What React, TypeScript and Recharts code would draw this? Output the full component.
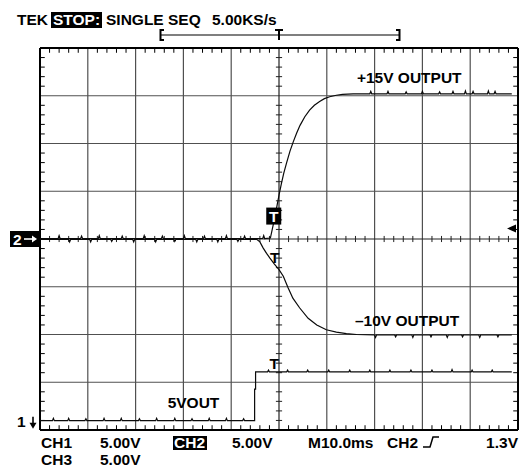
import React from 'react';
import { ComposedChart, Line, XAxis, YAxis, ReferenceLine, ReferenceDot } from 'recharts';

const FONT = '"Liberation Sans", Arial, Helvetica, sans-serif';

// Time in ms relative to the trigger, voltage in volts.
// CH2: +15V output (ground at screen centre)
const pos15: [number, number][] = [
  [-50, 0.05],
  [-46.2, 0.05], [-46.0, 0.35], [-45.8, 0.05],
  [-41.5, 0.05], [-41.3, 0.3], [-41.1, 0.05],
  [-37.8, 0.05], [-37.6, 0.35], [-37.4, 0.05],
  [-33.0, 0.05], [-32.8, 0.3], [-32.6, 0.05],
  [-28.4, 0.05], [-28.2, 0.35], [-28.0, 0.05],
  [-24.6, 0.05], [-24.4, 0.3], [-24.2, 0.05],
  [-20.0, 0.05], [-19.8, 0.35], [-19.6, 0.05],
  [-15.8, 0.05], [-15.6, 0.3], [-15.4, 0.05],
  [-11.2, 0.05], [-11.0, 0.35], [-10.8, 0.05],
  [-7.4, 0.05], [-7.2, 0.3], [-7.0, 0.05],
  [-3.4, 0.05], [-3.2, 0.35], [-3.0, 0.05],
  [-1.8, 0.1], [-1.2, 1.5], [-0.6, 3.0], [0, 4.6], [0.5, 5.8], [1.0, 6.9],
  [1.6, 8.0], [2.3, 9.2], [3.0, 10.2], [3.7, 11.1], [4.4, 11.9], [5.4, 12.8],
  [6.4, 13.5], [7.4, 14.0], [8.5, 14.4], [9.5, 14.7], [10.6, 14.9], [12.0, 15.05],
  [13.3, 15.15], [15.5, 15.2], [17.5, 15.2],
  [19.0, 15.2], [19.2, 15.45], [19.4, 15.2],
  [22.6, 15.2], [22.8, 15.45], [23.0, 15.2],
  [26.4, 15.2], [26.6, 15.4], [26.8, 15.2],
  [29.8, 15.2], [30.0, 15.45], [30.2, 15.2],
  [33.4, 15.2], [33.6, 15.4], [33.8, 15.2],
  [36.2, 15.2], [36.4, 15.45], [36.6, 15.2],
  [38.8, 15.2], [39.0, 15.5], [39.2, 15.2],
  [40.4, 15.2], [40.6, 15.45], [40.8, 15.2],
  [43.6, 15.2], [43.8, 15.5], [44.0, 15.2],
  [45.0, 15.2], [45.2, 15.45], [45.4, 15.2],
  [48.7, 15.2],
];

// CH3: -10V output (same ground)
const neg10: [number, number][] = [
  [-50, -0.05],
  [-44.0, -0.05], [-43.8, -0.3], [-43.6, -0.05],
  [-39.6, -0.05], [-39.4, -0.3], [-39.2, -0.05],
  [-35.2, -0.05], [-35.0, -0.25], [-34.8, -0.05],
  [-30.6, -0.05], [-30.4, -0.3], [-30.2, -0.05],
  [-26.0, -0.05], [-25.8, -0.3], [-25.6, -0.05],
  [-22.0, -0.05], [-21.8, -0.25], [-21.6, -0.05],
  [-17.4, -0.05], [-17.2, -0.3], [-17.0, -0.05],
  [-13.0, -0.05], [-12.8, -0.3], [-12.6, -0.05],
  [-8.8, -0.05], [-8.6, -0.25], [-8.4, -0.05],
  [-4.6, -0.05], [-4.0, -0.3], [-3.3, -0.95], [-2.6, -1.5], [-1.9, -2.0], [-1.0, -2.6],
  [0, -3.2], [0.9, -3.9], [1.9, -5.1], [2.9, -6.2], [4.3, -7.2], [6.1, -8.3],
  [7.9, -9.0], [9.9, -9.5], [12.0, -9.75], [14.1, -9.9], [16.2, -10.0],
  [20.0, -10.05], [20.2, -10.3], [20.4, -10.05],
  [24.2, -10.05], [24.4, -10.25], [24.6, -10.05],
  [27.8, -10.05], [28.0, -10.3], [28.2, -10.05],
  [31.6, -10.05], [31.8, -10.25], [32.0, -10.05],
  [35.0, -10.05], [35.2, -10.3], [35.4, -10.05],
  [38.2, -10.05], [38.4, -10.25], [38.6, -10.05],
  [41.8, -10.05], [42.0, -10.3], [42.2, -10.05],
  [45.6, -10.05], [45.8, -10.25], [46.0, -10.05],
  [48.7, -10.05],
];

// CH1: 5VOUT (own ground, near bottom of screen)
const out5: [number, number][] = [
  [-50, 0],
  [-47.4, 0], [-47.2, 0.25], [-47.0, 0],
  [-44.2, 0], [-44.0, 0.25], [-43.8, 0],
  [-40.6, 0], [-40.4, 0.2], [-40.2, 0],
  [-36.8, 0], [-36.6, 0.25], [-36.4, 0],
  [-33.2, 0], [-33.0, 0.25], [-32.8, 0],
  [-29.4, 0], [-29.2, 0.2], [-29.0, 0],
  [-25.8, 0], [-25.6, 0.25], [-25.4, 0],
  [-22.0, 0], [-21.8, 0.25], [-21.6, 0],
  [-18.4, 0], [-18.2, 0.2], [-18.0, 0],
  [-14.8, 0], [-14.6, 0.25], [-14.4, 0],
  [-11.2, 0], [-11.0, 0.25], [-10.8, 0],
  [-7.6, 0], [-7.4, 0.2], [-7.2, 0],
  [-5.1, 0], [-5.1, 3.3], [-4.9, 3.3], [-4.9, 5.1],
  [-2.4, 5.1], [-2.2, 5.3], [-2.0, 5.1],
  [1.6, 5.1], [1.8, 5.3], [2.0, 5.1],
  [5.8, 5.1], [6.0, 5.3], [6.2, 5.1],
  [10.2, 5.1], [10.4, 5.3], [10.6, 5.1],
  [14.6, 5.1], [14.8, 5.3], [15.0, 5.1],
  [18.8, 5.1], [19.0, 5.3], [19.2, 5.1],
  [23.0, 5.1], [23.2, 5.3], [23.4, 5.1],
  [27.4, 5.1], [27.6, 5.3], [27.8, 5.1],
  [31.8, 5.1], [32.0, 5.3], [32.2, 5.1],
  [36.0, 5.1], [36.2, 5.35], [36.4, 5.1],
  [40.2, 5.1], [40.4, 5.3], [40.6, 5.1],
  [44.4, 5.1], [44.6, 5.3], [44.8, 5.1],
  [48.7, 5.1],
];

const timeMajor = [-40, -30, -20, -10, 10, 20, 30, 40];
const voltMajor = [-15, -10, -5, 5, 10, 15];

const timeMinor: number[] = [];
for (let t = -48; t <= 48; t += 2) if (t % 10 !== 0) timeMinor.push(t);
const voltMinor: number[] = [];
for (let v = -19; v <= 19; v += 1) if (v % 5 !== 0) voltMinor.push(v);

const toData = (pts: [number, number][]) => pts.map(([t, v]) => ({ t, v }));

const GRID = '#505050';
const CENTER = '#222';
const INK = '#000';
const TRACE = '#0a0a0a';

const txt = { fontFamily: FONT, fontWeight: 700, fontSize: 15.5 } as const;

export default function App() {
  const ticks: React.ReactNode[] = [];
  timeMinor.forEach((t, i) => {
    ticks.push(<ReferenceLine key={`hc${i}`} segment={[{ x: t, y: -0.32 }, { x: t, y: 0.32 }]} stroke={CENTER} />);
    ticks.push(<ReferenceLine key={`ht${i}`} segment={[{ x: t, y: 20 }, { x: t, y: 19.5 }]} stroke={INK} />);
    ticks.push(<ReferenceLine key={`hb${i}`} segment={[{ x: t, y: -20 }, { x: t, y: -19.5 }]} stroke={INK} />);
  });
  voltMinor.forEach((v, i) => {
    ticks.push(<ReferenceLine key={`vc${i}`} segment={[{ x: -0.65, y: v }, { x: 0.65, y: v }]} stroke={CENTER} />);
    ticks.push(<ReferenceLine key={`vl${i}`} segment={[{ x: -50, y: v }, { x: -49, y: v }]} stroke={INK} />);
    ticks.push(<ReferenceLine key={`vr${i}`} segment={[{ x: 50, y: v }, { x: 49, y: v }]} stroke={INK} />);
  });

  return (
    <div style={{ position: 'absolute', left: 0, top: 0, width: 521, height: 469, background: '#fff' }}>
      <ComposedChart width={521} height={469} margin={{ top: 48, right: 3, bottom: 39, left: 40 }}>
        <XAxis dataKey="t" type="number" domain={[-50, 50]} hide allowDataOverflow />
        <YAxis type="number" domain={[-20, 20]} hide allowDataOverflow />
        <YAxis yAxisId="ch1" type="number" domain={[-0.98, 39.02]} hide allowDataOverflow />

        {timeMajor.map((t) => (
          <ReferenceLine key={`gx${t}`} x={t} stroke={GRID} strokeWidth={1.2} />
        ))}
        {voltMajor.map((v) => (
          <ReferenceLine key={`gy${v}`} y={v} stroke={GRID} strokeWidth={1.2} />
        ))}
        <ReferenceLine x={0} stroke={CENTER} strokeWidth={1.2} />
        <ReferenceLine y={0} stroke={CENTER} strokeWidth={1.2} />
        {ticks}
        <ReferenceLine x={-50} stroke={INK} strokeWidth={2} />
        <ReferenceLine x={50} stroke={INK} strokeWidth={2} />
        <ReferenceLine y={20} stroke={INK} strokeWidth={2} />
        <ReferenceLine y={-20} stroke={INK} strokeWidth={2} />

        <Line data={toData(pos15)} dataKey="v" type="linear" dot={false} stroke={TRACE} strokeWidth={1.2} isAnimationActive={false} />
        <Line data={toData(neg10)} dataKey="v" type="linear" dot={false} stroke={TRACE} strokeWidth={1.2} isAnimationActive={false} />
        <Line data={toData(out5)} yAxisId="ch1" dataKey="v" type="linear" dot={false} stroke={TRACE} strokeWidth={1.2} isAnimationActive={false} />

        {/* channel 2 ground marker */}
        <ReferenceDot
          x={-50}
          y={0}
          r={0}
          shape={(p: any) => (
            <g>
              <rect x={p.cx - 30} y={p.cy - 8} width={29} height={16} fill="#000" />
              <text x={p.cx - 27} y={p.cy + 5.5} fill="#fff" style={txt}>2</text>
              <line x1={p.cx - 16} y1={p.cy} x2={p.cx - 6} y2={p.cy} stroke="#fff" strokeWidth={1.6} />
              <polygon points={`${p.cx - 3},${p.cy} ${p.cx - 8},${p.cy - 3.5} ${p.cx - 8},${p.cy + 3.5}`} fill="#fff" />
            </g>
          )}
        />
        {/* channel 1 ground marker */}
        <ReferenceDot
          x={-50}
          y={0}
          yAxisId="ch1"
          r={0}
          shape={(p: any) => (
            <g>
              <text x={p.cx - 23} y={p.cy + 6} fill="#000" style={txt}>1</text>
              <line x1={p.cx - 7} y1={p.cy - 4} x2={p.cx - 7} y2={p.cy + 3} stroke="#000" strokeWidth={1.6} />
              <polygon points={`${p.cx - 7},${p.cy + 8} ${p.cx - 10.5},${p.cy + 2} ${p.cx - 3.5},${p.cy + 2}`} fill="#000" />
            </g>
          )}
        />
        {/* trigger level indicator */}
        <ReferenceDot
          x={50}
          y={1.1}
          r={0}
          shape={(p: any) => (
            <polygon points={`${p.cx - 11},${p.cy} ${p.cx - 2},${p.cy - 4} ${p.cx - 2},${p.cy + 4}`} fill="#000" />
          )}
        />
        {/* trigger point marks */}
        <ReferenceDot
          x={-1.1}
          y={2.4}
          r={0}
          shape={(p: any) => (
            <g>
              <rect x={p.cx - 7.5} y={p.cy - 8.5} width={15} height={17} fill="#000" />
              <text x={p.cx} y={p.cy + 5.5} textAnchor="middle" fill="#fff" style={txt}>T</text>
            </g>
          )}
        />
        <ReferenceDot
          x={-0.9}
          y={-1.9}
          r={0}
          shape={(p: any) => (
            <text x={p.cx} y={p.cy + 5.5} textAnchor="middle" fill="#000" style={txt}>T</text>
          )}
        />
        <ReferenceDot
          x={-1.0}
          y={6.0}
          yAxisId="ch1"
          r={0}
          shape={(p: any) => (
            <text x={p.cx} y={p.cy + 5.5} textAnchor="middle" fill="#000" style={txt}>T</text>
          )}
        />
        {/* trace labels */}
        <ReferenceDot
          x={16.3}
          y={16.3}
          r={0}
          shape={(p: any) => (
            <text x={p.cx} y={p.cy} fill="#000" style={txt}>+15V OUTPUT</text>
          )}
        />
        <ReferenceDot
          x={15.9}
          y={-9.08}
          r={0}
          shape={(p: any) => (
            <text x={p.cx} y={p.cy} fill="#000" style={txt}>–10V OUTPUT</text>
          )}
        />
        <ReferenceDot
          x={-23.3}
          y={1.36}
          yAxisId="ch1"
          r={0}
          shape={(p: any) => (
            <text x={p.cx} y={p.cy} fill="#000" style={txt}>5VOUT</text>
          )}
        />
      </ComposedChart>

      <svg width={521} height={469} style={{ position: 'absolute', left: 0, top: 0, pointerEvents: 'none' }}>
        <text x={17} y={25} style={txt}>TEK</text>
        <rect x={51} y={12} width={51} height={16} fill="#000" />
        <text x={53} y={25} fill="#fff" style={txt}>STOP:</text>
        <text x={106} y={25} style={txt}>SINGLE SEQ</text>
        <text x={212} y={25} style={txt}>5.00KS/s</text>

        <line x1={160} y1={35} x2={400} y2={35} stroke="#000" strokeWidth={1.2} />
        <path d="M164,30 H160.5 V40 H164" fill="none" stroke="#000" strokeWidth={2} />
        <path d="M396,30 H399.5 V40 H396" fill="none" stroke="#000" strokeWidth={2} />
        <path d="M275,30 H283 M279,30 V40" fill="none" stroke="#000" strokeWidth={2} />

        <text x={41} y={448} style={txt}>CH1</text>
        <text x={100} y={448} style={txt}>5.00V</text>
        <rect x={173} y={436} width={34} height={14} fill="#000" />
        <text x={174} y={448} fill="#fff" style={txt}>CH2</text>
        <text x={232} y={448} style={txt}>5.00V</text>
        <text x={308} y={448} style={txt}>M10.0ms</text>
        <text x={387} y={448} style={txt}>CH2</text>
        <path d="M423,447 H430 L433,437 H439" fill="none" stroke="#000" strokeWidth={1.5} />
        <text x={518} y={448} textAnchor="end" style={txt}>1.3V</text>
        <text x={41} y={465} style={txt}>CH3</text>
        <text x={100} y={465} style={txt}>5.00V</text>
      </svg>
    </div>
  );
}
